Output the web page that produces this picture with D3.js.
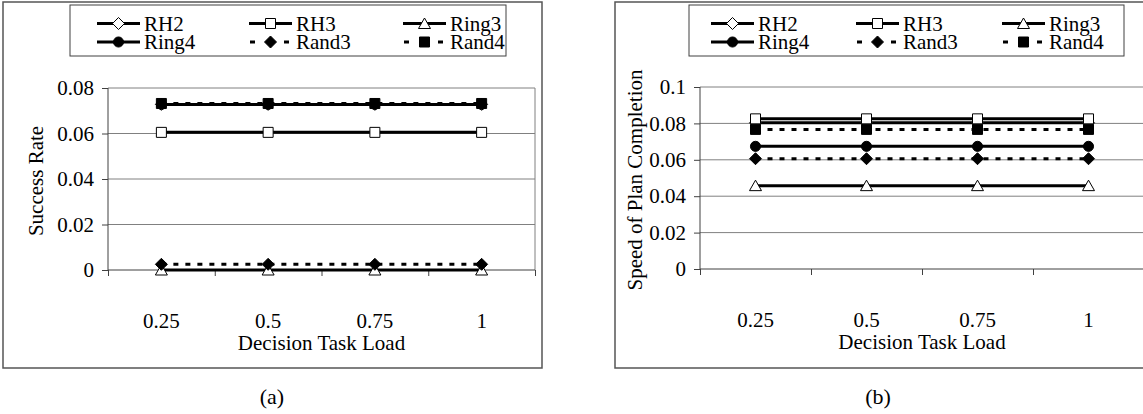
<!DOCTYPE html>
<html>
<head>
<meta charset="utf-8">
<script src="https://cdn.jsdelivr.net/npm/d3@7"></script>
<style>
  body { margin: 0; background: #fff; }
  svg text { font-family: "Liberation Serif", "Times New Roman", serif; fill: #000; }
</style>
</head>
<body>
<div id="chart"></div>
<script>
// categories (decision task load)
const loads = ['0.25', '0.5', '0.75', '1'];
const seriesNames = ['RH2', 'RH3', 'Ring3', 'Ring4', 'Rand3', 'Rand4'];

// (a) success rate
const successRH2 = [0.0728, 0.0728, 0.0728, 0.0728];
const successRH3 = [0.0605, 0.0605, 0.0605, 0.0605];
const successRing3 = [0, 0, 0, 0];
const successRing4 = [0.0728, 0.0728, 0.0728, 0.0728];
const successRand3 = [0.0025, 0.0025, 0.0025, 0.0025];
const successRand4 = [0.0732, 0.0732, 0.0732, 0.0732];

// (b) speed of plan completion
const speedRH2 = [0.0803, 0.0803, 0.0803, 0.0803];
const speedRH3 = [0.0825, 0.0825, 0.0825, 0.0825];
const speedRing3 = [0.0458, 0.0458, 0.0458, 0.0458];
const speedRing4 = [0.0674, 0.0674, 0.0674, 0.0674];
const speedRand3 = [0.0606, 0.0606, 0.0606, 0.0606];
const speedRand4 = [0.0767, 0.0767, 0.0767, 0.0767];

const yTicksA = [0, 0.02, 0.04, 0.06, 0.08];
const yTicksB = [0, 0.02, 0.04, 0.06, 0.08, 0.1];

// marker / line style per series
const styles = {
	RH2: { marker: 'diamond', filled: false, dashed: false },
	RH3: { marker: 'square', filled: false, dashed: false },
	Ring3: { marker: 'triangle', filled: false, dashed: false },
	Ring4: { marker: 'circle', filled: true, dashed: false },
	Rand3: { marker: 'diamond', filled: true, dashed: true },
	Rand4: { marker: 'square', filled: true, dashed: true }
};

const width = 1143, height = 414;
const svg = d3.select('#chart').append('svg')
	.attr('width', width).attr('height', height)
	.attr('viewBox', [0, 0, width, height]);

function markerPath(type) {
	switch (type) {
	case 'diamond': return 'M0,-6L6,0L0,6L-6,0Z';
	case 'square': return 'M-5,-5H5V5H-5Z';
	case 'triangle': return 'M0,-5.5L6,5L-6,5Z';
	default: return d3.symbol(d3.symbolCircle, 80)();
	}
}

function drawMarker(g, type, filled, x, y) {
	g.append('path')
		.attr('d', markerPath(type))
		.attr('transform', 'translate(' + x + ',' + y + ')')
		.attr('fill', filled ? '#000' : '#fff')
		.attr('stroke', '#000')
		.attr('stroke-width', 1);
}

function drawPanel(cfg) {
	const g = svg.append('g');

	// outer frame
	g.append('rect')
		.attr('x', cfg.frame[0]).attr('y', cfg.frame[1])
		.attr('width', cfg.frame[2] - cfg.frame[0]).attr('height', cfg.frame[3] - cfg.frame[1])
		.attr('fill', 'none').attr('stroke', '#555').attr('stroke-width', 1.5);

	const x = d3.scaleBand().domain(loads).range([cfg.left, cfg.right]).padding(0);
	const xEdge = d3.scaleLinear().domain([0, loads.length]).range([cfg.left, cfg.right]);
	const y = d3.scaleLinear().domain([0, cfg.yMax]).range([cfg.bottom, cfg.top]);

	// gridlines
	g.append('g').selectAll('line')
		.data(cfg.yTicks.filter(d => d > 0))
		.join('line')
		.attr('x1', cfg.left).attr('x2', cfg.right)
		.attr('y1', d => y(d)).attr('y2', d => y(d))
		.attr('stroke', '#808080').attr('stroke-width', 1);
	g.append('line')
		.attr('x1', cfg.right).attr('x2', cfg.right)
		.attr('y1', cfg.top).attr('y2', cfg.bottom)
		.attr('stroke', '#808080').attr('stroke-width', 1);

	// y axis
	const yAxis = g.append('g')
		.attr('transform', 'translate(' + cfg.left + ',0)')
		.call(d3.axisLeft(y).tickValues(cfg.yTicks).tickSize(6).tickPadding(8)
			.tickFormat(d => String(+d.toFixed(2))));
	yAxis.selectAll('text').attr('font-size', 21).attr('font-family', null);
	yAxis.selectAll('line, path').attr('stroke', '#404040');
	yAxis.select('.domain').attr('d', 'M0,' + cfg.bottom + 'V' + cfg.top);

	// x axis: boundary ticks + centred labels
	const xTicks = g.append('g')
		.attr('transform', 'translate(0,' + cfg.bottom + ')')
		.call(d3.axisBottom(xEdge).tickValues(d3.range(loads.length + 1)).tickSize(6).tickFormat(''));
	xTicks.selectAll('line, path').attr('stroke', '#404040');
	xTicks.select('.domain').attr('d', 'M' + cfg.left + ',0H' + cfg.right);

	const xLabels = g.append('g')
		.attr('transform', 'translate(0,' + cfg.bottom + ')')
		.call(d3.axisBottom(x).tickSize(0).tickPadding(43));
	xLabels.select('.domain').remove();
	xLabels.selectAll('text').attr('font-size', 21).attr('font-family', null);

	// axis titles
	g.append('text')
		.attr('transform', 'translate(' + cfg.yTitleX + ',' + ((cfg.top + cfg.bottom) / 2 + 2) + ') rotate(-90)')
		.attr('text-anchor', 'middle')
		.attr('font-size', 21)
		.text(cfg.yTitle);
	g.append('text')
		.attr('x', (cfg.left + cfg.right) / 2).attr('y', cfg.bottom + 80)
		.attr('text-anchor', 'middle')
		.attr('font-size', 21)
		.text('Decision Task Load');

	// series
	const line = d3.line().x((d, i) => x(loads[i]) + x.bandwidth() / 2).y(d => y(d));
	seriesNames.forEach(name => {
		const st = styles[name];
		const vals = cfg.values[name];
		g.append('path')
			.attr('d', line(vals))
			.attr('fill', 'none')
			.attr('stroke', '#000')
			.attr('stroke-width', 3)
			.attr('stroke-dasharray', st.dashed ? '5,7' : null);
		vals.forEach((v, i) => drawMarker(g, st.marker, st.filled, x(loads[i]) + x.bandwidth() / 2, y(v)));
	});

	// legend
	const lg = cfg.legend;
	g.append('rect')
		.attr('x', lg.x).attr('y', lg.y).attr('width', lg.w).attr('height', lg.h)
		.attr('fill', '#fff').attr('stroke', '#404040').attr('stroke-width', 1);
	seriesNames.forEach((name, i) => {
		const st = styles[name];
		const col = i % 3, row = Math.floor(i / 3);
		const x0 = lg.cols[col];
		const yy = lg.y + 18.5 + row * 18.5;
		g.append('line')
			.attr('x1', x0 + (st.dashed ? 1 : 0)).attr('x2', x0 + (st.dashed ? 40 : 43))
			.attr('y1', yy).attr('y2', yy)
			.attr('stroke', '#000').attr('stroke-width', 3)
			.attr('stroke-dasharray', st.dashed ? '5,12' : null);
		drawMarker(g, st.marker, st.filled, x0 + 21.5, yy);
		g.append('text')
			.attr('x', x0 + 47).attr('y', yy + 7)
			.attr('font-size', 21)
			.text(name);
	});

	// caption
	g.append('text')
		.attr('x', cfg.captionX).attr('y', 404)
		.attr('text-anchor', 'middle')
		.attr('font-size', 22)
		.text(cfg.caption);
}

drawPanel({
	frame: [3, 2, 542, 368],
	left: 108, right: 535, top: 88, bottom: 270,
	yMax: 0.08, yTicks: yTicksA,
	yTitle: 'Success Rate', yTitleX: 43,
	legend: { x: 70, y: 5, w: 436, h: 51, cols: [97, 249, 403] },
	caption: '(a)', captionX: 272,
	values: {
		RH2: successRH2, RH3: successRH3, Ring3: successRing3,
		Ring4: successRing4, Rand3: successRand3, Rand4: successRand4
	}
});

drawPanel({
	frame: [615, 2, 1146, 368],
	left: 700, right: 1144, top: 87, bottom: 269,
	yMax: 0.1, yTicks: yTicksB,
	yTitle: 'Speed of Plan Completion', yTitleX: 642,
	legend: { x: 689, y: 5, w: 435, h: 51, cols: [711, 856, 1002] },
	caption: '(b)', captionX: 878,
	values: {
		RH2: speedRH2, RH3: speedRH3, Ring3: speedRing3,
		Ring4: speedRing4, Rand3: speedRand3, Rand4: speedRand4
	}
});
</script>
</body>
</html>
